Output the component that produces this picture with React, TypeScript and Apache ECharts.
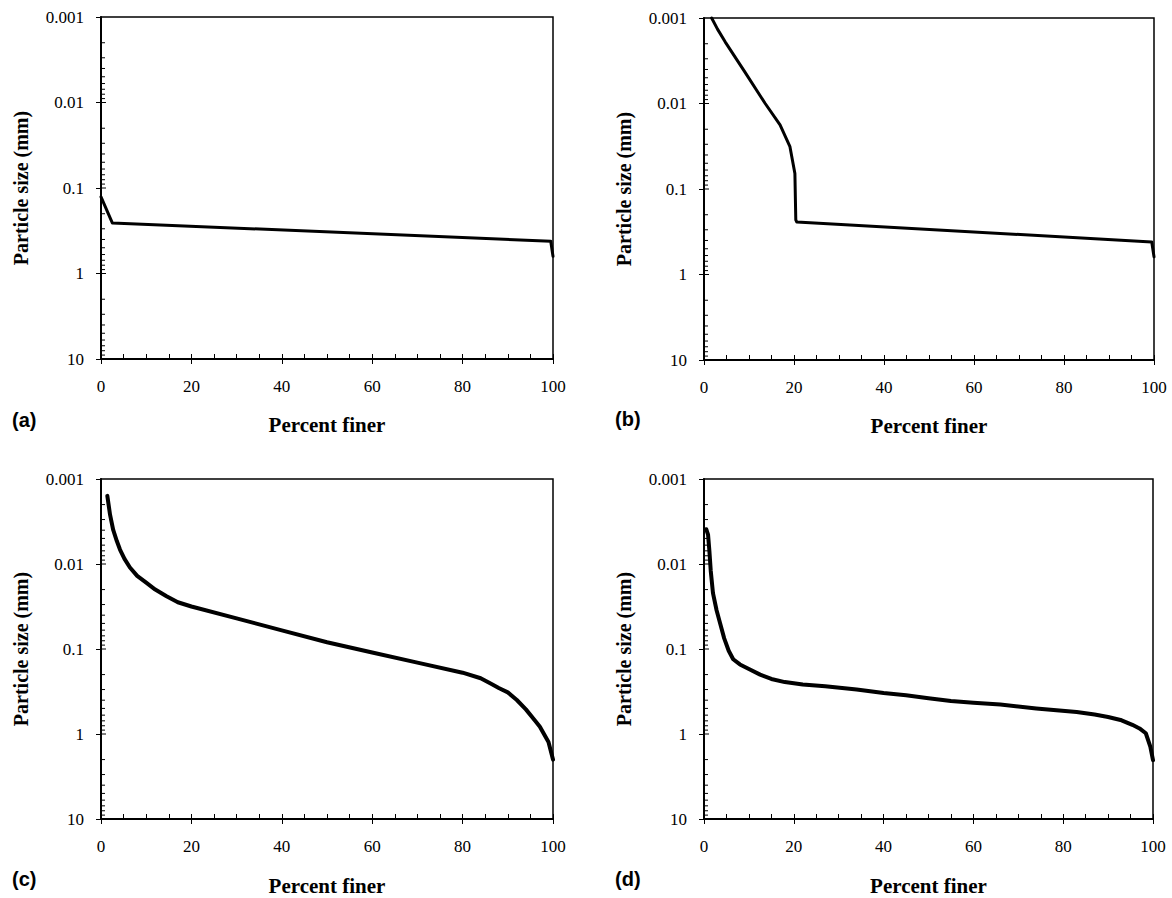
import React, { useEffect, useRef } from "react";
import * as echarts from "echarts";

// ---- data (percent finer vs particle size in mm) ----
const aPercent = [0, 2.5, 99.5, 100];
const aSize = [0.127, 0.256, 0.42, 0.63];

const bPercent = [1.7, 3.0, 4.7, 9.1, 13.6, 16.9, 19.1, 20.2, 20.4, 20.6, 99.5, 100];
const bSize = [0.001, 0.00135, 0.0019, 0.0043, 0.01, 0.0178, 0.032, 0.066, 0.23, 0.243, 0.417, 0.62];

const cPercent = [1.4, 2.0, 2.7, 3.5, 4.2, 5.2, 6.4, 8, 10, 12, 14.5, 17, 20, 30, 40, 50, 60, 70, 80, 84, 86.5, 88, 90, 92, 94, 96, 97.1, 98, 99, 100];
const cSize = [0.00158, 0.00263, 0.00398, 0.00537, 0.00676, 0.00871, 0.011, 0.0138, 0.0166, 0.02, 0.024, 0.0282, 0.0316, 0.0437, 0.0603, 0.0832, 0.11, 0.1445, 0.19, 0.221, 0.26, 0.288, 0.324, 0.398, 0.513, 0.692, 0.82, 1.0, 1.24, 2.0];

const dPercent = [0.5, 0.9, 1.2, 1.5, 2.0, 2.8, 3.6, 4.5, 5.5, 6.5, 8, 10, 12.5, 15, 18, 22, 27, 34, 40, 45, 50, 55, 60, 66, 74, 83, 87, 90, 93, 95.4, 97, 98.4, 99.4, 100];
const dSize = [0.0039, 0.0045, 0.007, 0.012, 0.022, 0.035, 0.05, 0.075, 0.105, 0.132, 0.152, 0.172, 0.2, 0.225, 0.245, 0.262, 0.275, 0.3, 0.33, 0.35, 0.38, 0.41, 0.43, 0.45, 0.5, 0.55, 0.59, 0.63, 0.69, 0.78, 0.86, 0.98, 1.41, 2.03];

const panelLetters = ["(a)", "(b)", "(c)", "(d)"];
const xTickLabels = ["0", "20", "40", "60", "80", "100"];
const yTickLabels = ["0.001", "0.01", "0.1", "1", "10"];
const yDecades = [0.001, 0.01, 0.1, 1];
const yMantissas = [2, 3, 4, 5, 6, 7, 8, 9];
const xName = "Percent finer";
const yName = "Particle size (mm)";

const series = [
  { p: aPercent, s: aSize, w: 3 },
  { p: bPercent, s: bSize, w: 3 },
  { p: cPercent, s: cSize, w: 4 },
  { p: dPercent, s: dSize, w: 4 },
];

const grids = [
  { left: 101, top: 17, width: 452, height: 342 },
  { left: 704, top: 18, width: 450, height: 342 },
  { left: 101, top: 479, width: 452, height: 340 },
  { left: 704, top: 479, width: 449, height: 340 },
];
const letterPos = [
  { x: 12, y: 421 },
  { x: 615, y: 420 },
  { x: 12, y: 880 },
  { x: 615, y: 880 },
];

const SERIF = "'Liberation Serif', 'Times New Roman', serif";
const SANS = "'Liberation Sans', Arial, sans-serif";

export default function App() {
  const ref = useRef<HTMLDivElement>(null);
  useEffect(() => {
    if (!ref.current) return;
    const chart = echarts.init(ref.current, null, { renderer: "svg" });

    const innerYTicks: { v: number; major: boolean }[] = [];
    yDecades.forEach((d, i) => {
      if (i > 0) innerYTicks.push({ v: d, major: true });
      yMantissas.forEach((m) => innerYTicks.push({ v: +(m * d).toPrecision(3), major: false }));
    });

    const xAxes: any[] = [];
    const yAxes: any[] = [];
    const allSeries: any[] = [];
    grids.forEach((g, i) => {
      xAxes.push({
        type: "value",
        gridIndex: i,
        position: "bottom",
        min: 0,
        max: 100,
        interval: 20,
        splitLine: { show: false },
        axisLine: { show: true, lineStyle: { color: "#000", width: 2 } },
        axisTick: { show: true, inside: true, length: 5, lineStyle: { color: "#000", width: 1 } },
        minorTick: { show: true, splitNumber: 4, length: 5, lineStyle: { color: "#000", width: 1 } },
        axisLabel: {
          color: "#000",
          fontFamily: SERIF,
          fontSize: 17,
          margin: 19,
          formatter: (v: number) => xTickLabels[Math.round(v / 20)],
        },
        name: xName,
        nameLocation: "middle",
        nameGap: i < 2 ? 55 : 56,
        nameTextStyle: { color: "#000", fontFamily: SERIF, fontSize: 21, fontWeight: "bold" },
      });
      yAxes.push({
        type: "log",
        logBase: 10,
        gridIndex: i,
        position: "left",
        min: 0.001,
        max: 10,
        inverse: true,
        splitLine: { show: false },
        axisLine: { show: true, lineStyle: { color: "#000", width: 2 } },
        axisTick: { show: true, inside: false, length: 5, lineStyle: { color: "#000", width: 1 } },
        axisLabel: {
          color: "#000",
          fontFamily: SERIF,
          fontSize: 17,
          margin: 17,
          formatter: (v: number) => yTickLabels[Math.round(Math.log10(v)) + 3],
        },
        name: yName,
        nameLocation: "middle",
        nameGap: 70,
        nameTextStyle: { color: "#000", fontFamily: SERIF, fontSize: 20, fontWeight: "bold" },
      });
      allSeries.push({
        type: "line",
        xAxisIndex: i,
        yAxisIndex: i,
        data: series[i].p.map((x, k) => [x, series[i].s[k]]),
        showSymbol: false,
        symbol: "none",
        clip: false,
        smooth: false,
        lineStyle: { color: "#000", width: series[i].w, join: "round", cap: "round" },
        z: 5,
      });
      allSeries.push({
        type: "custom",
        xAxisIndex: i,
        yAxisIndex: i,
        clip: false,
        silent: true,
        data: innerYTicks.map((t) => [0, t.v, t.major ? 1 : 0]),
        renderItem: (params: any, api: any) => {
          const p = api.coord([api.value(0), api.value(1)]);
          const len = api.value(2) ? 5 : 4;
          return {
            type: "line",
            shape: { x1: p[0], y1: p[1], x2: p[0] + len, y2: p[1] },
            style: { stroke: "#000", lineWidth: 1 },
          };
        },
        z: 3,
      });
    });
    // outside halves of major x ticks
    grids.forEach((g, i) => {
      xAxes.push({
        type: "value",
        gridIndex: i,
        position: "bottom",
        min: 0,
        max: 100,
        interval: 20,
        splitLine: { show: false },
        axisLine: { show: false },
        axisTick: { show: true, inside: false, length: 5, lineStyle: { color: "#000", width: 1 } },
        axisLabel: { show: false },
      });
    });

    chart.setOption({
      animation: false,
      backgroundColor: "#fff",
      grid: grids.map((g) => ({
        ...g,
        show: true,
        borderColor: "#000",
        borderWidth: 1.5,
        backgroundColor: "transparent",
        containLabel: false,
      })),
      xAxis: xAxes,
      yAxis: yAxes,
      series: allSeries,
      graphic: panelLetters.map((t, i) => ({
        type: "text",
        left: letterPos[i].x,
        top: letterPos[i].y - 11,
        style: { text: t, fill: "#000", font: `bold 20px ${SANS}` },
      })),
    });
    return () => chart.dispose();
  }, []);
  return (
    <div
      ref={ref}
      style={{ position: "fixed", left: 0, top: 0, width: 1172, height: 898, background: "#fff" }}
    />
  );
}
